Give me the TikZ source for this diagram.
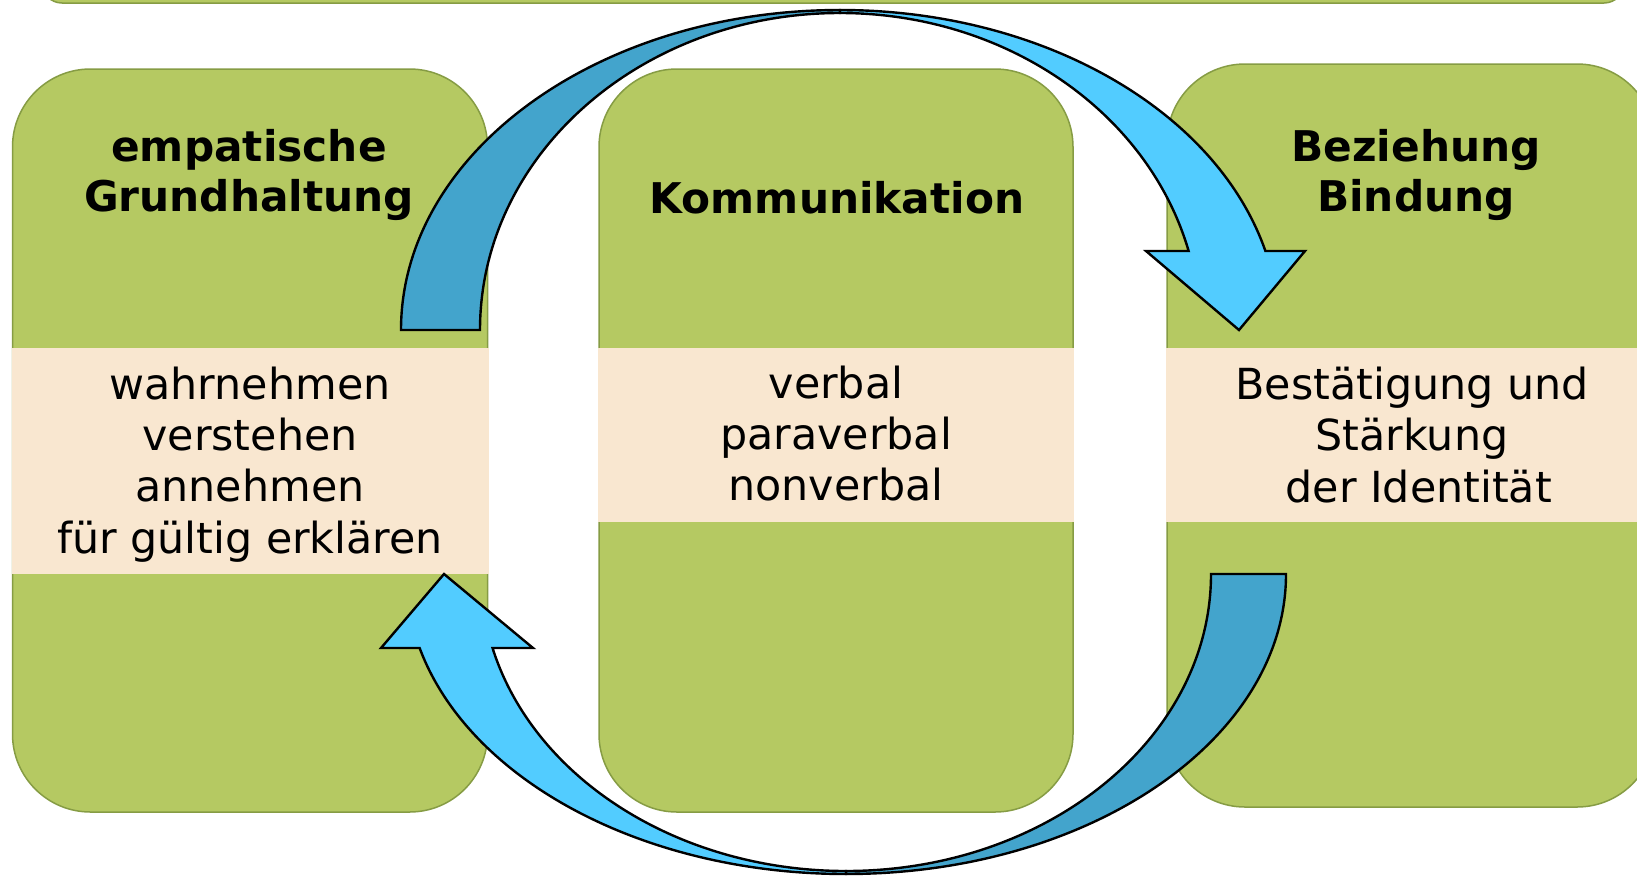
\documentclass[tikz,border=0pt]{standalone}
\usepackage{fontspec}
\setmainfont{DejaVu Sans}
\usetikzlibrary{calc}
\definecolor{boxgreen}{RGB}{181,201,98}
\definecolor{boxborder}{RGB}{134,156,68}
\definecolor{peach}{RGB}{249,231,208}
\definecolor{darkblue}{RGB}{67,164,204}
\definecolor{lightblue}{RGB}{82,204,255}
\tikzset{
  greenbox/.style={draw=boxborder, fill=boxgreen, line width=1.5pt, rounded corners=78pt, inner sep=0pt},
  band/.style={fill=peach, draw=none, inner sep=0pt},
  title/.style={font=\bfseries\fontsize{42.3}{50.5}\selectfont, align=center, inner sep=0pt},
  body/.style={font=\fontsize{42.8}{51.2}\selectfont, align=center, inner sep=0pt},
  backpiece/.style={draw=black, fill=darkblue, line width=2.4pt, line join=miter},
  frontpiece/.style={draw=black, fill=lightblue, line width=2.4pt, line join=miter}
}
\begin{document}
\begin{tikzpicture}[x=1pt, y=-1pt]
\useasboundingbox (0,0) rectangle (1637,876);
\fill[white] (0,0) rectangle (1637,876);
% top bar
\node[greenbox, rounded corners=20pt, minimum width=1582pt, minimum height=50pt] (topbar) at (833,-22) {};
% boxes
\node[greenbox, minimum width=475pt, minimum height=743pt] (leftbox) at (250,440.5) {};
\node[greenbox, minimum width=474pt, minimum height=743pt] (midbox) at (836,440.5) {};
\node[greenbox, minimum width=488pt, minimum height=743pt] (rightbox) at (1411,435.5) {};
% bands
\node[band, minimum width=477pt, minimum height=226pt] (leftband) at (250,461) {};
\node[band, minimum width=476pt, minimum height=174pt] (midband) at (836,435) {};
\node[band, minimum width=490pt, minimum height=174pt] (rightband) at (1411,435) {};
% titles
\node[title] (lefttitle) at (249,175) {empatische\\Grundhaltung};
\node[title] (midtitle) at (837,198) {Kommunikation};
\node[title] (righttitle) at (1416,175) {Beziehung\\Bindung};
% bodies
\node[body] (leftbody) at (250,464.5) {wahrnehmen\\verstehen\\annehmen\\für gültig erklären};
\node[body] (midbody) at (836,433.8) {verbal\\paraverbal\\nonverbal};
\node[body] (rightbody) at (1412,435) {Bestätigung und\\Stärkung\\~der Identität};
% top arrow
\coordinate (c1) at (840,330);
\draw[backpiece] (401,330) arc[start angle=180, end angle=270, x radius=439, y radius=320]
  -- (840,13) arc[start angle=270, end angle=180, x radius=360, y radius=317] -- cycle;
\draw[frontpiece] (840,10) arc[start angle=270, end angle=345.7, x radius=439, y radius=320]
  -- (1305,251) -- (1239,330) -- (1146,251) -- ($(c1)+(345.57:360 and 317)$)
  arc[start angle=345.57, end angle=270, x radius=360, y radius=317] -- cycle;
% bottom arrow
\coordinate (c2) at (846,574);
\draw[backpiece] (1286,574) arc[start angle=0, end angle=90, x radius=440, y radius=300]
  -- (846,871) arc[start angle=90, end angle=0, x radius=365, y radius=297] -- cycle;
\draw[frontpiece] (846,874) arc[start angle=90, end angle=165.72, x radius=440, y radius=300]
  -- (381,648) -- (444,574) -- (533,648) -- ($(c2)+(165.57:365 and 297)$)
  arc[start angle=165.57, end angle=90, x radius=365, y radius=297] -- cycle;
\end{tikzpicture}
\end{document}
